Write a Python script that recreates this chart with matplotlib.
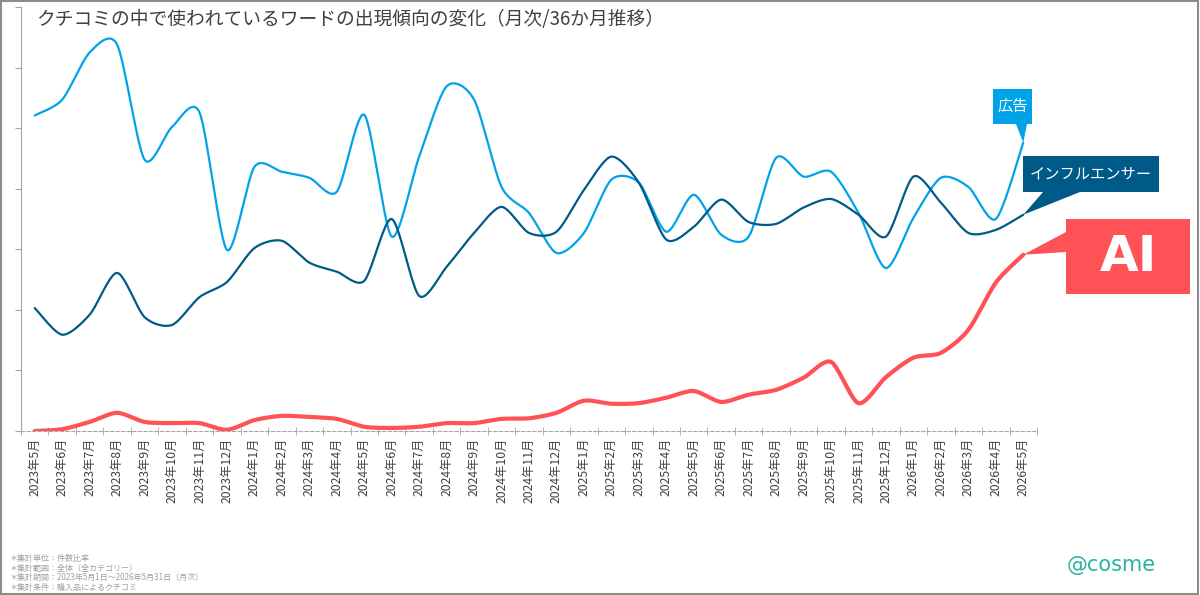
#
# クチコミ出現ワードの月次推移（広告 / インフルエンサー / AI）
#

import numpy as np
import matplotlib.pyplot as plt
from matplotlib.patches import Polygon, Rectangle

plt.rcParams['font.family'] = ['Noto Sans CJK JP', 'DejaVu Sans']

months = [f"{y}年{m}月" for y in (2023, 2024, 2025, 2026) for m in range(1, 13)][4:41]

ad = [5.21, 5.47, 6.25, 6.38, 4.48, 5.02, 5.26, 2.99, 4.36, 4.28, 4.18, 3.95,
      5.22, 3.21, 4.53, 5.69, 5.47, 4.03, 3.60, 2.94, 3.27, 4.15, 4.10, 3.29,
      3.90, 3.24, 3.21, 4.51, 4.20, 4.28, 3.60, 2.69, 3.52, 4.18, 4.03, 3.50, 4.76]
influencer = [2.03, 1.59, 1.92, 2.61, 1.88, 1.75, 2.21, 2.46, 3.02, 3.14, 2.78, 2.63,
              2.48, 3.50, 2.23, 2.71, 3.27, 3.70, 3.27, 3.29, 3.98, 4.53, 4.10, 3.16,
              3.37, 3.82, 3.45, 3.42, 3.69, 3.83, 3.57, 3.21, 4.20, 3.77, 3.27, 3.32, 3.57]
ai = [0.00, 0.03, 0.15, 0.30, 0.15, 0.13, 0.13, 0.02, 0.18, 0.25, 0.23, 0.20,
      0.07, 0.05, 0.07, 0.13, 0.13, 0.20, 0.21, 0.30, 0.50, 0.45, 0.46, 0.55,
      0.66, 0.48, 0.60, 0.68, 0.88, 1.14, 0.46, 0.89, 1.21, 1.29, 1.67, 2.45, 2.91]

C_AD = "#00A3E8"
C_INF = "#005A87"
C_AI = "#FF5257"
GRAY = "#A6A6A6"


def smooth(y, n=24, k=0.8):
    # cardinal spline through the monthly points (like Excel's smoothed line)
    p = np.column_stack([np.arange(len(y)), y]).astype(float)
    p = np.vstack([p[0], p, p[-1]])
    t = np.linspace(0, 1, n, endpoint=False)[:, None]
    h00 = 2 * t ** 3 - 3 * t ** 2 + 1
    h10 = t ** 3 - 2 * t ** 2 + t
    h01 = -2 * t ** 3 + 3 * t ** 2
    h11 = t ** 3 - t ** 2
    out = []
    for i in range(1, len(p) - 2):
        p0, p1, p2, p3 = p[i - 1], p[i], p[i + 1], p[i + 2]
        m1 = k * (p2 - p0) / 2
        m2 = k * (p3 - p1) / 2
        out.append(h00 * p1 + h10 * m1 + h01 * p2 + h11 * m2)
    out.append(p[-2][None, :])
    out = np.vstack(out)
    return out[:, 0], out[:, 1]


fig = plt.figure(figsize=(12, 5.95), dpi=100)
ax = fig.add_axes([21 / 1200, 1 - 431 / 595, 1016 / 1200, 424 / 595])

for vals, c, lw in [(ad, C_AD, 1.6), (influencer, C_INF, 1.6), (ai, C_AI, 3.0)]:
    sx, sy = smooth(vals)
    ax.plot(sx, sy, color=c, lw=lw, solid_capstyle="round")

ax.set_xlim(-0.5, len(months) - 0.5)
ax.set_ylim(0, 7)
ax.set_xticks(range(len(months)))
ax.set_xticklabels(months, rotation=90, fontsize=8.8, color="#404040")
ax.set_xticks(np.arange(-0.5, len(months)), minor=True)
ax.tick_params(axis="x", which="major", length=0, pad=5)
ax.tick_params(axis="x", which="minor", direction="inout", length=6, color=GRAY)
ax.set_yticks(range(8))
ax.set_yticklabels([])
ax.tick_params(axis="y", direction="out", length=4, color=GRAY)
for s in ["top", "right"]:
    ax.spines[s].set_visible(False)
ax.spines["left"].set_color(GRAY)
ax.spines["bottom"].set_color(GRAY)
ax.spines["bottom"].set_linestyle((0, (3, 2)))

fig.text(36 / 1200, 1 - 20 / 595, "クチコミの中で使われているワードの出現傾向の変化（月次/36か月推移）",
         fontsize=13.5, color="#404040", va="center", ha="left")

notes = ["＊集計単位：件数比率", "＊集計範囲：全体（全カテゴリー）",
         "＊集計期間：2023年5月1日～2026年5月31日（月次）", "＊集計条件：購入品によるクチコミ"]
for k, s in enumerate(notes):
    fig.text(10 / 1200, 1 - (559 + k * 9.4) / 595, s, fontsize=5.8, color="#A0A0A0", va="center")

fig.text(1111 / 1200, 1 - 565 / 595, "@cosme", fontsize=15, color="#2BB3A0",
         ha="center", va="center", family="DejaVu Sans")


# callouts: boxes given in picture pixels, tip taken from the last data point
def fig_xy(px, py):
    return px / 1200, 1 - py / 595


def tip(vals):
    d = ax.transData.transform((len(vals) - 1, vals[-1]))
    return tuple(fig.transFigure.inverted().transform(d))


def callout(pts, color):
    fig.add_artist(Polygon(pts, closed=True, transform=fig.transFigure,
                           facecolor=color, edgecolor="none"))


fig.canvas.draw()

callout([fig_xy(993, 89), fig_xy(1032, 89), fig_xy(1032, 124), fig_xy(1027, 124),
         tip(ad), fig_xy(1016, 124), fig_xy(993, 124)], C_AD)
fig.text(*fig_xy(1012.5, 106.5), "広告", color="white", fontsize=11, ha="center", va="center")

callout([fig_xy(1023, 156), fig_xy(1159, 156), fig_xy(1159, 192), fig_xy(1080, 192),
         tip(influencer), fig_xy(1043, 192), fig_xy(1023, 192)], C_INF)
fig.text(*fig_xy(1091, 174), "インフルエンサー", color="white", fontsize=11, ha="center", va="center")

callout([fig_xy(1066, 219), fig_xy(1190, 219), fig_xy(1190, 294), fig_xy(1066, 294),
         fig_xy(1066, 252), tip(ai), fig_xy(1066, 232)], C_AI)
fig.text(*fig_xy(1128, 257), "AI", color="white", fontsize=36, fontweight="bold",
         ha="center", va="center", family="DejaVu Sans")

fig.add_artist(Rectangle((0.001, 0.002), 0.997, 0.996, transform=fig.transFigure,
                         fill=False, edgecolor="#8C8C8C", lw=1.5))

fig.savefig("out.png", dpi=100)
